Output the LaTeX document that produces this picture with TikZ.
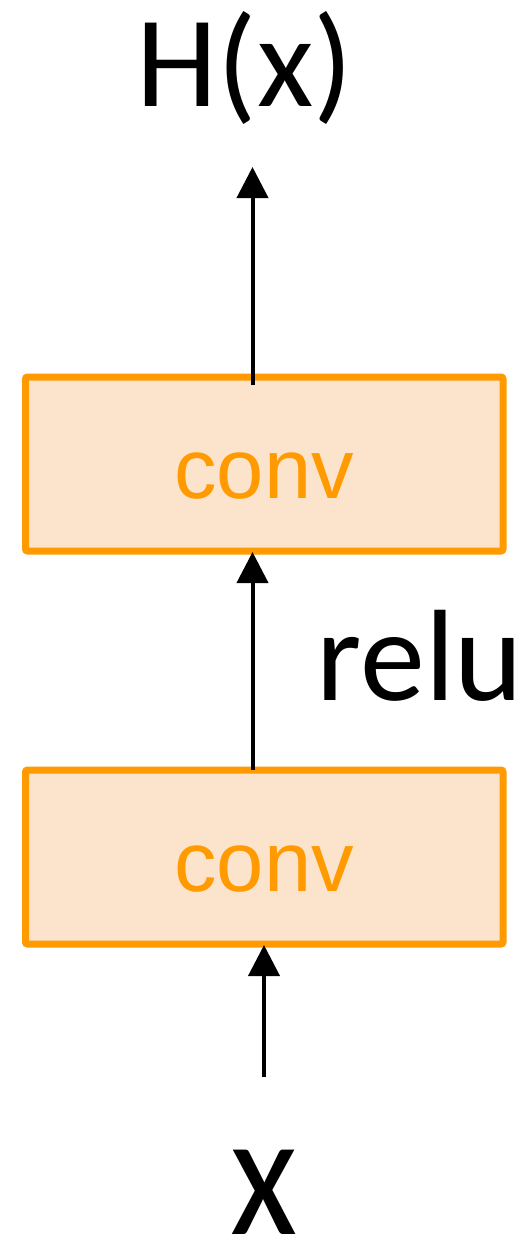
\documentclass[tikz,border=0pt]{standalone}
\usepackage{fontspec}
\setmainfont{Carlito}
\newfontfamily\convfont{Liberation Sans}
\usetikzlibrary{arrows.meta,calc}
\definecolor{convorange}{RGB}{255,154,0}
\definecolor{convfill}{RGB}{252,228,204}
\tikzset{
  convbox/.style={draw=convorange, fill=convfill, line width=7pt, rounded corners=2pt,
    minimum width=477.5pt, minimum height=174pt, inner sep=0pt, outer sep=0pt,
    text=convorange, font=\convfont\fontsize{85}{85}\selectfont,
    text height=68pt, text depth=0pt},
  flow/.style={line width=4pt, -{Triangle[width=31pt,length=31pt]}},
  bigtext/.style={inner sep=0pt, anchor=base, font=\fontsize{130}{130}\selectfont}
}
\begin{document}
\begin{tikzpicture}[x=1pt, y=-1pt]
  \useasboundingbox (0,0) rectangle (532,1244);
  % the two convolution layers
  \node[convbox] (conv1) at (264.25,464) {conv};
  \node[convbox] (conv2) at (264.25,857) {conv};
  % labels
  \node[bigtext] (hx) at (245,107) {H(x)};
  \node[bigtext] (relu) at (420,700) {relu};
  \node[inner sep=0pt, anchor=base, font=\fontsize{155}{155}\selectfont] (xin) at (264,1234) {\scalebox{1}[1.14]{x}};
  % arrow ends that are not on a node
  \coordinate (top) at (252.5,167);
  \coordinate (bottom) at (264,1077);
  % data flow
  \draw[flow] ($(conv1.north)+(-11.75,8)$) -- (top);
  \draw[flow] ($(conv2.north)+(-11.75,0)$) -- ($(conv1.south)+(-11.75,1)$);
  \draw[flow] (bottom) -- ($(conv2.south)+(-0.25,1)$);
\end{tikzpicture}
\end{document}
